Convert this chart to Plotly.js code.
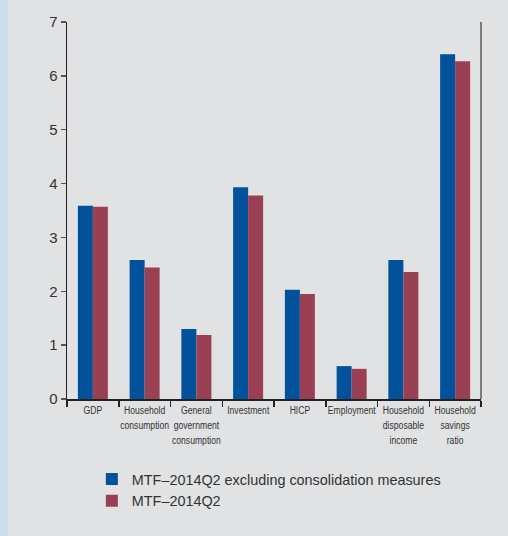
<!DOCTYPE html>
<html>
<head>
<meta charset="utf-8">
<script src="https://cdn.plot.ly/plotly-3.0.1.min.js"></script>
<style>
  html, body { margin: 0; padding: 0; background: #e1e2e4; }
  #chart { width: 508px; height: 536px; }
</style>
</head>
<body>
<div id="chart"></div>
<script>
// Categories along the x-axis (line breaks as printed)
const categories = [
  'GDP',
  'Household<br>consumption',
  'General<br>government<br>consumption',
  'Investment',
  'HICP',
  'Employment',
  'Household<br>disposable<br>income',
  'Household<br>savings<br>ratio'
];

// Series values
const exclConsolidation = [3.59, 2.58, 1.30, 3.93, 2.03, 0.61, 2.58, 6.40];
const mtf2014Q2 = [3.57, 2.44, 1.19, 3.78, 1.95, 0.56, 2.36, 6.27];

// Series names
const seriesNames = ['MTF\u20132014Q2 excluding consolidation measures', 'MTF\u20132014Q2'];

// Y-axis ticks
const yTicks = [0, 1, 2, 3, 4, 5, 6, 7];

const blue = '#01519b';
const red = '#9a4055';
const bg = '#e1e2e4';

// horizontal squeeze for the category labels (condensed look)
const labelSqueeze = 0.75;

const traces = [
  {
    type: 'bar', name: seriesNames[0], x: categories, y: exclConsolidation,
    marker: { color: blue, line: { width: 0 } }, hoverinfo: 'none'
  },
  {
    type: 'bar', name: seriesNames[1], x: categories, y: mtf2014Q2,
    marker: { color: red, line: { width: 0 } }, hoverinfo: 'none'
  }
];

const layout = {
  width: 508,
  height: 536,
  margin: { l: 67, r: 27, t: 22, b: 137 },
  paper_bgcolor: bg,
  plot_bgcolor: bg,
  barmode: 'group',
  bargap: 0.42,
  bargroupgap: 0,
  showlegend: true,
  legend: {
    orientation: 'v',
    x: 0.06, xanchor: 'left',
    y: -0.17, yanchor: 'top',
    bgcolor: 'rgba(0,0,0,0)',
    font: { family: 'Liberation Sans, Arial, sans-serif', size: 14.4, color: '#333333' },
    traceorder: 'normal',
    itemclick: false, itemdoubleclick: false
  },
  xaxis: {
    type: 'category',
    showgrid: false,
    zeroline: false,
    showline: true,
    linecolor: '#222222',
    linewidth: 1.5,
    ticks: 'outside',
    tickson: 'boundaries',
    ticklen: 6,
    tickcolor: '#222222',
    tickwidth: 1.5,
    tickangle: 0,
    tickfont: { family: 'Liberation Sans, Arial, sans-serif', size: 11.5, color: '#333333' },
    fixedrange: true
  },
  yaxis: {
    range: [0, 7],
    tickvals: yTicks,
    ticktext: yTicks.map(String),
    showgrid: false,
    zeroline: false,
    showline: true,
    linecolor: '#222222',
    linewidth: 1.5,
    ticks: 'outside',
    ticklen: 5,
    tickcolor: '#555555',
    tickwidth: 1.5,
    tickfont: { family: 'Liberation Sans, Arial, sans-serif', size: 15, color: '#333333' },
    fixedrange: true
  },
  shapes: [
    // right-hand frame line
    { type: 'line', xref: 'paper', yref: 'paper', x0: 1, x1: 1, y0: 0, y1: 1,
      line: { color: '#5a5a5a', width: 1.5 } },
    // light blue strip along the left edge of the panel
    { type: 'rect', xref: 'paper', yref: 'paper', x0: -67 / 414, x1: -59 / 414,
      y0: -137 / 377, y1: 1 + 22 / 377, fillcolor: '#cddcee', line: { width: 0 }, layer: 'below' }
  ]
};

Plotly.newPlot('chart', traces, layout, { displayModeBar: false, staticPlot: true }).then(gd => {
  // squeeze each category label about its own centre
  gd.querySelectorAll('.xtick text').forEach(t => {
    const bb = t.getBBox();
    const cx = bb.x + bb.width / 2;
    const tr = t.getAttribute('transform') || '';
    t.setAttribute('transform',
      tr + ' translate(' + cx + ',0) scale(' + labelSqueeze + ',1) translate(' + (-cx) + ',0)');
  });
});
</script>
</body>
</html>
